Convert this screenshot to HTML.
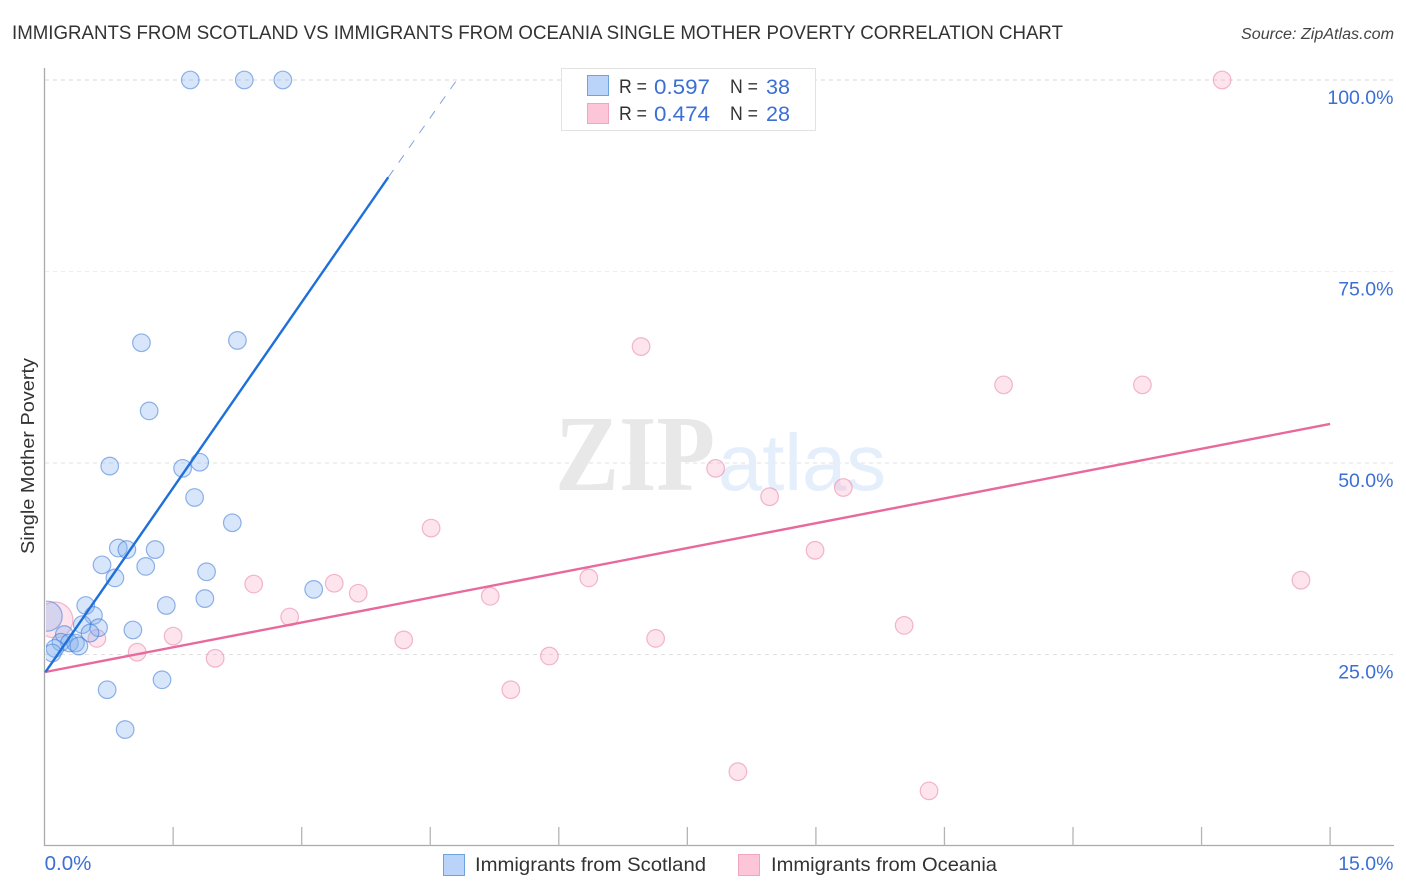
<!DOCTYPE html>
<html lang="en">
<head>
<meta charset="utf-8">
<title>Immigrants from Scotland vs Immigrants from Oceania Single Mother Poverty Correlation Chart</title>
<style>
html,body{margin:0;padding:0;background:#fff;width:1406px;height:892px;overflow:hidden}
svg{display:block}
text{font-family:"Liberation Sans",sans-serif}
</style>
</head>
<body>
<svg id="chart" xmlns="http://www.w3.org/2000/svg" width="1406" height="892" viewBox="0 0 1406 892">
  <defs>
    <clipPath id="plot-clip"><rect x="46" y="60" width="1350" height="786"/></clipPath>
  </defs>
  <rect x="0" y="0" width="1406" height="892" fill="#ffffff"/>
  <text x="12" y="39" font-size="19.5" fill="#333333" textLength="1051" lengthAdjust="spacingAndGlyphs">IMMIGRANTS FROM SCOTLAND VS IMMIGRANTS FROM OCEANIA SINGLE MOTHER POVERTY CORRELATION CHART</text>
  <text x="1241" y="39" font-size="15.5" font-style="italic" fill="#444444" textLength="153" lengthAdjust="spacingAndGlyphs">Source: ZipAtlas.com</text>

  <g id="grid"></g>

  <g>
    <text x="555" y="490" font-size="108" font-weight="bold" fill="#e8e8e8" textLength="160" lengthAdjust="spacingAndGlyphs" style="font-family:'Liberation Serif',serif">ZIP</text>
    <text x="718" y="490" font-size="80" fill="#e5eefb" textLength="168" lengthAdjust="spacingAndGlyphs">atlas</text>
  </g>

  <g id="axes">
    <line x1="44.5" y1="68" x2="44.5" y2="846" stroke="#aaaaaa" stroke-width="1.3"/>
    <line x1="44" y1="845.5" x2="1394" y2="845.5" stroke="#aaaaaa" stroke-width="1.3"/>
  </g>

  <g id="points" clip-path="url(#plot-clip)"></g>
  <g id="trends"></g>
  <g id="labels"></g>

  <text transform="translate(34,554) rotate(-90)" font-size="18.5" fill="#333333" textLength="196" lengthAdjust="spacingAndGlyphs">Single Mother Poverty</text>

  <g>
    <rect x="561.5" y="68.5" width="254" height="62" fill="#ffffff" stroke="#e2e2e2" stroke-width="1"/>
    <rect x="587.5" y="75.5" width="21" height="20" fill="#b9d4f8" stroke="#6fa3dd" stroke-width="1"/>
    <rect x="587.5" y="103.5" width="21" height="20" fill="#fcc6d8" stroke="#f0a6c0" stroke-width="1"/>
    <text x="619" y="93" font-size="19.5" fill="#333333" textLength="28" lengthAdjust="spacingAndGlyphs">R =</text>
    <text x="654" y="94" font-size="21" fill="#3b6fd4" textLength="56" lengthAdjust="spacingAndGlyphs">0.597</text>
    <text x="730" y="93" font-size="19.5" fill="#333333" textLength="28" lengthAdjust="spacingAndGlyphs">N =</text>
    <text x="766" y="94" font-size="21" fill="#3b6fd4" textLength="24" lengthAdjust="spacingAndGlyphs">38</text>
    <text x="619" y="120" font-size="19.5" fill="#333333" textLength="28" lengthAdjust="spacingAndGlyphs">R =</text>
    <text x="654" y="121" font-size="21" fill="#3b6fd4" textLength="56" lengthAdjust="spacingAndGlyphs">0.474</text>
    <text x="730" y="120" font-size="19.5" fill="#333333" textLength="28" lengthAdjust="spacingAndGlyphs">N =</text>
    <text x="766" y="121" font-size="21" fill="#3b6fd4" textLength="24" lengthAdjust="spacingAndGlyphs">28</text>
  </g>

  <g>
    <rect x="443.5" y="854.5" width="21" height="21" fill="#b9d4f8" stroke="#6fa3dd" stroke-width="1"/>
    <text x="475" y="871" font-size="19.5" fill="#333333" textLength="231" lengthAdjust="spacingAndGlyphs">Immigrants from Scotland</text>
    <rect x="738.5" y="854.5" width="21" height="21" fill="#fcc6d8" stroke="#f0a6c0" stroke-width="1"/>
    <text x="771" y="871" font-size="19.5" fill="#333333" textLength="226" lengthAdjust="spacingAndGlyphs">Immigrants from Oceania</text>
  </g>
</svg>

<script>
var xTickValues = [1.5, 3, 4.5, 6, 7.5, 9, 10.5, 12, 13.5, 15];
var xTickLabels = ["0.0%", "15.0%"];
var xLabelValues = [0, 15];
var yTickValues = [100, 75, 50, 25];
var yTickLabels = ["100.0%", "75.0%", "50.0%", "25.0%"];

var scotlandX = [1.70, 2.33, 2.78, 1.13, 2.25, 1.22, 0.76, 1.61, 1.81, 1.75, 2.19, 0.86, 0.96, 1.29, 0.67, 1.18, 0.82, 1.89, 1.87, 1.42, 3.14, 0.48, 0.57, 0.44, 0.63, 0.53, 1.03, 0.23, 0.19, 0.29, 0.36, 0.40, 0.12, 0.09, 0.73, 1.37, 0.94];
var scotlandY = [100, 100, 100, 65.7, 66.0, 56.8, 49.6, 49.3, 50.1, 45.5, 42.2, 38.9, 38.7, 38.7, 36.7, 36.5, 35.0, 35.8, 32.3, 31.4, 33.5, 31.4, 30.1, 28.9, 28.5, 27.8, 28.2, 27.6, 26.6, 26.5, 26.5, 26.1, 25.8, 25.2, 20.4, 21.7, 15.2];
var scotlandBubbleX = [0.03];
var scotlandBubbleY = [30.0];
var scotlandBubbleR = [15];

var oceaniaX = [13.74, 6.96, 11.19, 12.81, 7.83, 8.46, 9.32, 4.51, 8.99, 6.35, 14.66, 2.44, 3.38, 3.66, 5.20, 2.86, 10.03, 4.19, 7.13, 1.50, 0.61, 1.08, 1.99, 5.89, 5.44, 8.09, 10.32];
var oceaniaY = [100, 65.2, 60.2, 60.2, 49.3, 45.6, 46.8, 41.5, 38.6, 35.0, 34.7, 34.2, 34.3, 33.0, 32.6, 29.9, 28.8, 26.9, 27.1, 27.4, 27.1, 25.3, 24.5, 24.8, 20.4, 9.7, 7.2];
var oceaniaBubbleX = [0.12];
var oceaniaBubbleY = [29.5];
var oceaniaBubbleR = [18];

var scotlandSolidX = [0.01, 4.01];
var scotlandSolidY = [22.7, 87.3];
var scotlandDashX = [4.01, 4.81];
var scotlandDashY = [87.3, 100];
var oceaniaTrendX = [0, 15];
var oceaniaTrendY = [22.7, 55.1];

var NS = "http://www.w3.org/2000/svg";
function xPos(v) { return 44.6 + v * 85.7; }
function yPos(v) { return 846 - v * 7.66; }

var gridG = document.getElementById("grid");
var axesG = document.getElementById("axes");
var pointsG = document.getElementById("points");
var trendsG = document.getElementById("trends");
var labelsG = document.getElementById("labels");

yTickValues.forEach(function (v, i) {
  var ln = document.createElementNS(NS, "line");
  
  
  ln.setAttribute("x1", 45);
  ln.setAttribute("x2", 1394);
  ln.setAttribute("y1", yPos(v));
  ln.setAttribute("y2", yPos(v));
  ln.setAttribute("stroke", i === 0 ? "#d8d8d8" : (i === 1 ? "#eeeeee" : "#e0e0e0"));
  ln.setAttribute("stroke-width", "1");
  ln.setAttribute("stroke-dasharray", "4 4");
  gridG.appendChild(ln);

  var t = document.createElementNS(NS, "text");
  
  
  t.setAttribute("x", 1393.5);
  t.setAttribute("y", yPos(v) + 24);
  t.setAttribute("text-anchor", "end");
  t.setAttribute("font-size", "19.5");
  t.setAttribute("fill", "#3b6fd4");
  t.textContent = yTickLabels[i];
  labelsG.appendChild(t);
});

xTickValues.forEach(function (v) {
  var ln = document.createElementNS(NS, "line");
  
  
  ln.setAttribute("x1", xPos(v));
  ln.setAttribute("x2", xPos(v));
  ln.setAttribute("y1", 827);
  ln.setAttribute("y2", 846);
  ln.setAttribute("stroke", "#b5b5b5");
  ln.setAttribute("stroke-width", "1.3");
  axesG.appendChild(ln);
});

xLabelValues.forEach(function (v, i) {
  var t = document.createElementNS(NS, "text");
  
  
  t.setAttribute("x", i === 0 ? xPos(v) : 1393.5);
  t.setAttribute("y", 870);
  t.setAttribute("text-anchor", i === 0 ? "start" : "end");
  t.setAttribute("font-size", i === 0 ? "20.5" : "19.5");
  t.setAttribute("fill", "#3b6fd4");
  t.textContent = xTickLabels[i];
  labelsG.appendChild(t);
});

function drawPoint(x, y, r, fill, stroke, name) {
  var c = document.createElementNS(NS, "circle");
  
  
  c.setAttribute("cx", xPos(x));
  c.setAttribute("cy", yPos(y));
  c.setAttribute("r", r);
  c.setAttribute("fill", fill);
  c.setAttribute("stroke", stroke);
  c.setAttribute("stroke-width", "1.2");
  pointsG.appendChild(c);
}

var pinkFill = "rgba(250,170,198,0.32)";
var pinkStroke = "rgba(232,130,168,0.55)";
var blueFill = "rgba(130,178,240,0.32)";
var blueStroke = "rgba(60,120,215,0.55)";

oceaniaBubbleX.forEach(function (x, i) {
  drawPoint(x, oceaniaBubbleY[i], oceaniaBubbleR[i], pinkFill, pinkStroke, "oceania-bubble");
});
oceaniaX.forEach(function (x, i) {
  drawPoint(x, oceaniaY[i], 8.8, pinkFill, pinkStroke, "oceania-point");
});
scotlandBubbleX.forEach(function (x, i) {
  drawPoint(x, scotlandBubbleY[i], scotlandBubbleR[i], blueFill, blueStroke, "scotland-bubble");
});
scotlandX.forEach(function (x, i) {
  drawPoint(x, scotlandY[i], 8.8, blueFill, blueStroke, "scotland-point");
});

function drawTrend(xs, ys, color, width, dash, name) {
  var ln = document.createElementNS(NS, "line");
  
  
  ln.setAttribute("x1", xPos(xs[0]));
  ln.setAttribute("y1", yPos(ys[0]));
  ln.setAttribute("x2", xPos(xs[1]));
  ln.setAttribute("y2", yPos(ys[1]));
  ln.setAttribute("stroke", color);
  ln.setAttribute("stroke-width", width);
  if (dash) ln.setAttribute("stroke-dasharray", dash);
  trendsG.appendChild(ln);
}

drawTrend(oceaniaTrendX, oceaniaTrendY, "#e8699b", 2.4, null, "oceania-trend-line");
drawTrend(scotlandSolidX, scotlandSolidY, "#1f6fdb", 2.4, null, "scotland-trend-line");
drawTrend(scotlandDashX, scotlandDashY, "#7fa3dc", 1, "9 9", "scotland-trend-extension");
</script>
</body>
</html>
